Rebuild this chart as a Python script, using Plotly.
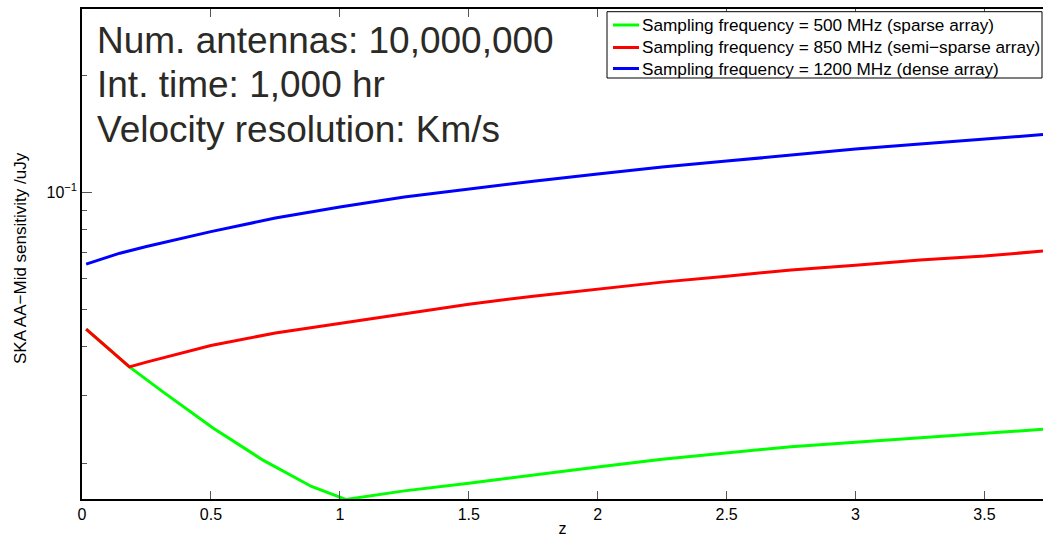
import plotly.graph_objects as go

# Redshift samples and sensitivity values (uJy) for each sampling frequency
z_500 = [0.016, 0.184, 0.314, 0.508, 0.702, 0.89, 1.023, 1.25, 1.5, 1.75, 2.0,
         2.25, 2.5, 2.75, 3.0, 3.25, 3.5, 3.727]
sens_500 = [0.0444, 0.0355, 0.0306, 0.0247, 0.0204, 0.01745, 0.01616, 0.0170,
            0.0178, 0.0187, 0.0196, 0.0205, 0.0213, 0.0221, 0.0227, 0.0233,
            0.0240, 0.0245]

z_850 = [0.016, 0.184, 0.25, 0.5, 0.75, 1.0, 1.25, 1.5, 1.75, 2.0, 2.25, 2.5,
         2.75, 3.0, 3.25, 3.5, 3.727]
sens_850 = [0.0444, 0.0355, 0.0365, 0.0403, 0.0434, 0.0460, 0.0487, 0.0515,
            0.0540, 0.0563, 0.0587, 0.0608, 0.0631, 0.0649, 0.0669, 0.0685,
            0.0706]

z_1200 = [0.016, 0.08, 0.147, 0.25, 0.38, 0.5, 0.75, 1.0, 1.25, 1.5, 1.75, 2.0,
          2.25, 2.5, 2.75, 3.0, 3.25, 3.5, 3.727]
sens_1200 = [0.0653, 0.0673, 0.0697, 0.0725, 0.0760, 0.0792, 0.0859, 0.0917,
             0.0973, 0.1020, 0.1069, 0.1115, 0.1162, 0.1204, 0.1248, 0.1293,
             0.1332, 0.1372, 0.1409]

series_names = [
    "Sampling frequency = 500 MHz (sparse array)",
    "Sampling frequency = 850 MHz (semi\u2212sparse array)",
    "Sampling frequency = 1200 MHz (dense array)",
]
series_colors = ["#00ff00", "#ff0000", "#0000ff"]

x_ticks = [0, 0.5, 1, 1.5, 2, 2.5, 3, 3.5]
x_tick_text = ["0", "0.5", "1", "1.5", "2", "2.5", "3", "3.5"]
y_major = [0.1]
y_major_text = ["10<sup>\u22121</sup>"]
y_minor = [0.02, 0.03, 0.04, 0.05, 0.06, 0.07, 0.08, 0.09, 0.2]

info_lines = [
    "Num. antennas: 10,000,000",
    "Int. time: 1,000 hr",
    "Velocity resolution: Km/s",
]

FONT = "Liberation Sans, Arial, Helvetica, sans-serif"
W, H = 1043, 540
ML, MR, MT, MB = 82, 0, 9, 41
PW, PH = W - ML - MR, H - MT - MB


def px_x(px):
    """Pixel column -> paper x."""
    return (px - ML) / PW


def px_y(py):
    """Pixel row -> paper y."""
    return 1 - (py - MT) / PH


fig = go.Figure()
for zs, vs, name, col in zip([z_500, z_850, z_1200],
                             [sens_500, sens_850, sens_1200],
                             series_names, series_colors):
    fig.add_trace(go.Scatter(x=zs, y=vs, mode="lines", name=name,
                             showlegend=False,
                             line=dict(color=col, width=3)))

axis_common = dict(
    showgrid=False, zeroline=False, showline=True, linecolor="black",
    linewidth=1.5, ticks="inside", tickcolor="#555555",
    tickwidth=1, tickfont=dict(family=FONT, size=16, color="black"),
)

# bottom axis mirrored to the top; the right-hand frame edge lies past the view
fig.update_xaxes(
    range=[0, 3.727], tickvals=x_ticks, ticktext=x_tick_text, ticklen=8,
    mirror="ticks",
    title=dict(text="z", font=dict(family=FONT, size=16, color="black"),
               standoff=1),
    **axis_common,
)
fig.update_yaxes(
    type="log", range=[-1.79048, -0.52724], tickvals=y_major,
    ticktext=y_major_text, ticklen=10, mirror=False,
    minor=dict(tickvals=y_minor, ticks="inside", ticklen=5,
               tickcolor="#555555", showgrid=False),
    **axis_common,
)

# y-axis label
fig.add_annotation(
    text="SKA AA\u2212Mid sensitivity /uJy", textangle=-90,
    xref="paper", yref="paper", x=px_x(20), y=px_y(258),
    xanchor="center", yanchor="middle", showarrow=False,
    font=dict(family=FONT, size=17, color="black"),
)

# Observation parameters printed in the upper-left corner
for i, line in enumerate(info_lines):
    fig.add_annotation(
        text=line, xref="paper", yref="paper",
        x=px_x(95), y=px_y(40.5 + 44.3 * i),
        xanchor="left", yanchor="middle", showarrow=False,
        font=dict(family=FONT, size=37, color="#2b2a26"),
    )

# Legend box in the upper-right corner, one row per series
fig.add_shape(type="rect", xref="paper", yref="paper",
              x0=px_x(607), x1=px_x(1042), y0=px_y(78), y1=px_y(11.7),
              line=dict(color="black", width=1), fillcolor="white",
              layer="above")
row_centres = [25, 47.5, 68.5]
for name, col, ry in zip(series_names, series_colors, row_centres):
    fig.add_shape(type="line", xref="paper", yref="paper",
                  x0=px_x(613), x1=px_x(639), y0=px_y(ry), y1=px_y(ry),
                  line=dict(color=col, width=3), layer="above")
    fig.add_annotation(
        text=name, xref="paper", yref="paper",
        x=px_x(640), y=px_y(ry), xanchor="left", yanchor="middle",
        showarrow=False, font=dict(family=FONT, size=17.2, color="black"),
    )

fig.update_layout(
    width=W, height=H,
    margin=dict(l=ML, r=MR, t=MT, b=MB),
    paper_bgcolor="white", plot_bgcolor="white",
    showlegend=False,
)

fig.write_html("out.html")
